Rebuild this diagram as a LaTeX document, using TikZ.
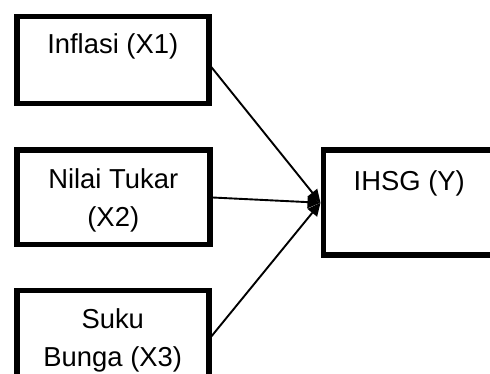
\documentclass[tikz,border=0pt]{standalone}
\usepackage{fontspec}
\setmainfont{Liberation Sans}
\usetikzlibrary{arrows.meta,calc}
\begin{document}
\begin{tikzpicture}[x=1pt,y=-1pt,
  box/.style={draw=black,line width=5.5pt,inner sep=0pt,anchor=north west},
  lbl/.style={anchor=base,align=center,inner sep=0pt,font=\fontsize{27.4}{38}\selectfont},
  conn/.style={line width=1.9pt,-{Triangle[length=13pt,width=12pt]}}]
\useasboundingbox (0,0) rectangle (490,374);
\clip (0,0) rectangle (490,374);
\node[box,minimum width=192pt,minimum height=87pt] (x1) at (14,14) {};
\node[box,minimum width=193pt,minimum height=94.5pt] (x2) at (14,147.5) {};
\node[box,minimum width=192pt,minimum height=92pt] (x3) at (14,287.5) {};
\node[box,minimum width=175pt,minimum height=105pt] (y) at (320.5,147.5) {};
\node[lbl] (t1) at ($(x1.north)+(0,40)$) {Inflasi (X1)};
\node[lbl] (t2) at ($(x2.north)+(0,79.5)$) {Nilai Tukar\\(X2)};
\node[lbl] (t3) at ($(x3.north)+(0,79.3)$) {Suku\\Bunga (X3)};
\node[lbl] (ty) at ($(y.north)+(-1.5,43)$) {IHSG (Y)};
\draw[conn] ($(x1.east)+(0,7)$) -- (y.west);
\draw[conn] (x2.east) -- (y.west);
\draw[conn] (x3.east) -- (y.west);
\end{tikzpicture}
\end{document}
